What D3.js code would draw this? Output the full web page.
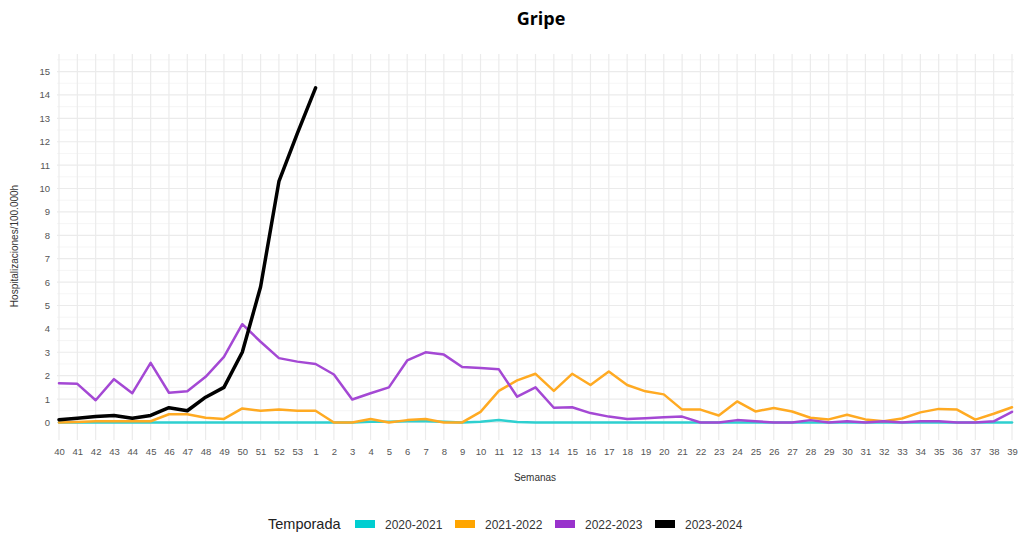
<!DOCTYPE html>
<html lang="es">
<head>
  <meta charset="UTF-8">
  <script src="https://d3js.org/d3.v7.min.js"></script>
  <title>Gripe</title>
  <style>
    body { margin: 0; background: #fff; }
    #title {
      position: absolute; left: 0; top: 6px; width: 1082px;
      text-align: center; font-family: 'Open Sans', sans-serif;
      font-weight: 700; font-size: 18px; color: #000;
    }
    .tick text { font-family: 'Liberation Sans', Arial, sans-serif; font-size: 9.5px; fill: #555; }
    .lab { font-family: 'Liberation Sans', Arial, sans-serif; fill: #333; }
  </style>
</head>
<body>
<div id="title">Gripe</div>
<div id="chart"></div>
<script>
  // weeks on the x axis (season runs week 40 to week 39)
  let weeks = ['40','41','42','43','44','45','46','47','48','49','50','51','52','53',
    '1','2','3','4','5','6','7','8','9','10','11','12','13','14','15','16','17','18','19','20',
    '21','22','23','24','25','26','27','28','29','30','31','32','33','34','35','36','37','38','39']

  let seasons = ['2020-2021', '2021-2022', '2022-2023', '2023-2024']

  let s2020 = [0,0,0,0,0,0,0,0,0,0,0,0,0,0,
    0,0,0,0.03,0.03,0.05,0.05,0.03,0,0.03,0.1,0.02,0,0,0,0,0,0,0,0,
    0,0,0,0,0,0,0,0,0,0,0,0,0,0,0,0,0,0,0]

  let s2021 = [0,0.02,0.05,0.05,0.05,0.05,0.35,0.35,0.2,0.15,0.6,0.5,0.55,0.5,
    0.5,0,0,0.15,0,0.1,0.15,0,0,0.45,1.35,1.8,2.08,1.35,2.08,1.6,2.18,1.6,1.33,1.2,
    0.55,0.55,0.3,0.9,0.47,0.62,0.47,0.2,0.13,0.33,0.13,0.05,0.17,0.43,0.58,0.55,0.12,0.37,0.65]

  let s2022 = [1.68,1.65,0.95,1.85,1.25,2.55,1.27,1.33,1.95,2.8,4.2,3.45,2.75,2.6,
    2.5,2.05,0.98,1.25,1.5,2.65,3.0,2.9,2.37,2.33,2.27,1.1,1.5,0.63,0.65,0.4,0.25,0.15,0.18,0.22,
    0.25,0,0,0.1,0.05,0,0,0.1,0,0.05,0,0.05,0,0.05,0.05,0,0,0.05,0.45]

  let s2023 = [0.12,0.18,0.25,0.3,0.18,0.3,0.63,0.5,1.08,1.5,3.0,5.8,10.3,12.35,14.3]

  let yTicks = d3.range(0, 16)

  let colors = ['#00CED1', '#FFA500', '#9932CC', '#000000']
  let lineColors = ['#2ED0D0', '#FFAA22', '#A448D4', '#000000']
  let widths = [2.5, 2.5, 2.5, 3.5]

  let width = 1019, height = 537
  let svg = d3.select("#chart").append("svg")
          .attr("width", width).attr("height", height)

  let panel = {left: 57, right: 1014, top: 54, bottom: 440}

  let xScale = d3.scalePoint().domain(weeks).range([59, 1012])
  let yScale = d3.scaleLinear().domain([-0.75, 15.75]).range([panel.bottom, panel.top])

  // grid
  let grid = svg.append("g")
  grid.selectAll(".minor").data(d3.range(0.5, 15.6, 1)).join("line")
          .attr("x1", panel.left).attr("x2", panel.right)
          .attr("y1", d => yScale(d)).attr("y2", d => yScale(d))
          .attr("stroke", "#f3f3f3").attr("stroke-width", 0.8)
  grid.selectAll(".hmaj").data(yTicks).join("line")
          .attr("x1", panel.left).attr("x2", panel.right)
          .attr("y1", d => yScale(d)).attr("y2", d => yScale(d))
          .attr("stroke", "#ebebeb").attr("stroke-width", 1.2)
  grid.selectAll(".vmaj").data(weeks).join("line")
          .attr("x1", d => xScale(d)).attr("x2", d => xScale(d))
          .attr("y1", panel.top).attr("y2", panel.bottom)
          .attr("stroke", "#ebebeb").attr("stroke-width", 1.2)

  // axes
  let yAxis = svg.append("g").attr("transform", "translate(" + (panel.left - 3) + ",0)")
          .call(d3.axisLeft(yScale).tickValues(yTicks).tickSize(0).tickPadding(4))
  yAxis.select(".domain").remove()

  let xAxis = svg.append("g").attr("transform", "translate(0," + (panel.bottom + 2) + ")")
          .call(d3.axisBottom(xScale).tickSize(0).tickPadding(6))
  xAxis.select(".domain").remove()

  // lines
  let line = d3.line()
          .x((d, i) => xScale(weeks[i]))
          .y(d => yScale(d))

  let series = [s2020, s2021, s2022, s2023]
  svg.append("g").selectAll("path").data(series).join("path")
          .attr("fill", "none")
          .attr("stroke", (d, i) => lineColors[i])
          .attr("stroke-width", (d, i) => widths[i])
          .attr("stroke-linejoin", "round")
          .attr("stroke-linecap", "round")
          .attr("d", d => line(d))

  // axis titles
  svg.append("text").attr("class", "lab")
          .attr("x", 535).attr("y", 481)
          .attr("text-anchor", "middle").style("font-size", "10px")
          .text("Semanas")
  svg.append("text").attr("class", "lab")
          .attr("transform", "translate(18,246) rotate(-90)")
          .attr("text-anchor", "middle").style("font-size", "10px")
          .text("Hospitalizaciones/100.000h")

  // legend
  let legend = svg.append("g")
  legend.append("text").attr("class", "lab")
          .attr("x", 268).attr("y", 529).style("font-size", "14.5px").style("fill", "#222")
          .text("Temporada")
  let keys = legend.selectAll(".key").data(seasons).join("g")
          .attr("transform", (d, i) => "translate(" + (355 + i * 100) + ",0)")
  keys.append("rect").attr("x", 0).attr("y", 520).attr("width", 20).attr("height", 8)
          .attr("fill", (d, i) => colors[i])
  keys.append("text").attr("class", "lab")
          .attr("x", 30).attr("y", 528.5).style("font-size", "12px").style("fill", "#333")
          .text(d => d)
</script>
</body>
</html>
